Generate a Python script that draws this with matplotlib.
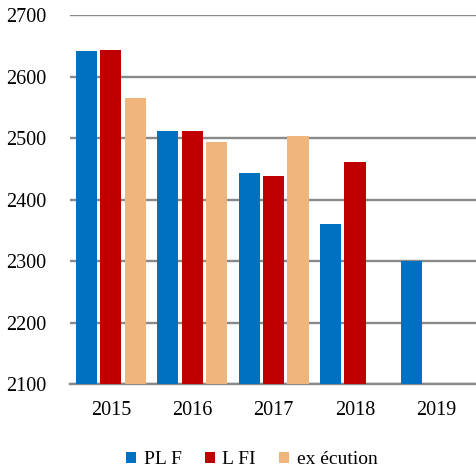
import matplotlib.pyplot as plt
import numpy as np

years = ["2015", "2016", "2017", "2018", "2019"]
plf = [2641, 2511, 2443, 2360, 2300]
lfi = [2643, 2511, 2438, 2461, np.nan]
execution = [2565, 2493, 2503, np.nan, np.nan]

plt.rcParams['font.family'] = ['Liberation Serif', 'DejaVu Serif']

fig = plt.figure(figsize=(4.77, 4.68), dpi=100)
ax = fig.add_axes([0.147, 0.179, 0.853, 0.789])

x = np.arange(len(years))
w = 0.26
ax.bar(x - 0.3, plf, w, color="#0070C0", label="PL F", zorder=3)
ax.bar(x, lfi, w, color="#C00000", label="L FI", zorder=3)
ax.bar(x + 0.3, execution, w, color="#F0B57C", label="ex écution", zorder=3)

ax.set_ylim(2100, 2700)
ax.set_yticks(range(2100, 2701, 100))
ax.set_xlim(-0.5, 4.5)
ax.set_xticks(x)
ax.set_xticklabels(years)
ax.yaxis.grid(True, color="#898989", linewidth=1.7, zorder=0)
for s in ["top", "right", "left"]:
    ax.spines[s].set_visible(False)
ax.spines["bottom"].set_color("#898989")
ax.spines["bottom"].set_linewidth(1.7)
ax.tick_params(axis="both", length=0, labelsize=14.5)
ax.tick_params(axis="x", pad=12)
ax.tick_params(axis="y", pad=17)

ax.legend(loc="center", bbox_to_anchor=(0.447, -0.205), ncol=3, frameon=False,
          fontsize=14, handlelength=0.5, handleheight=0.5, handletextpad=0.4,
          columnspacing=1.2)

fig.savefig("out.png", dpi=100)
